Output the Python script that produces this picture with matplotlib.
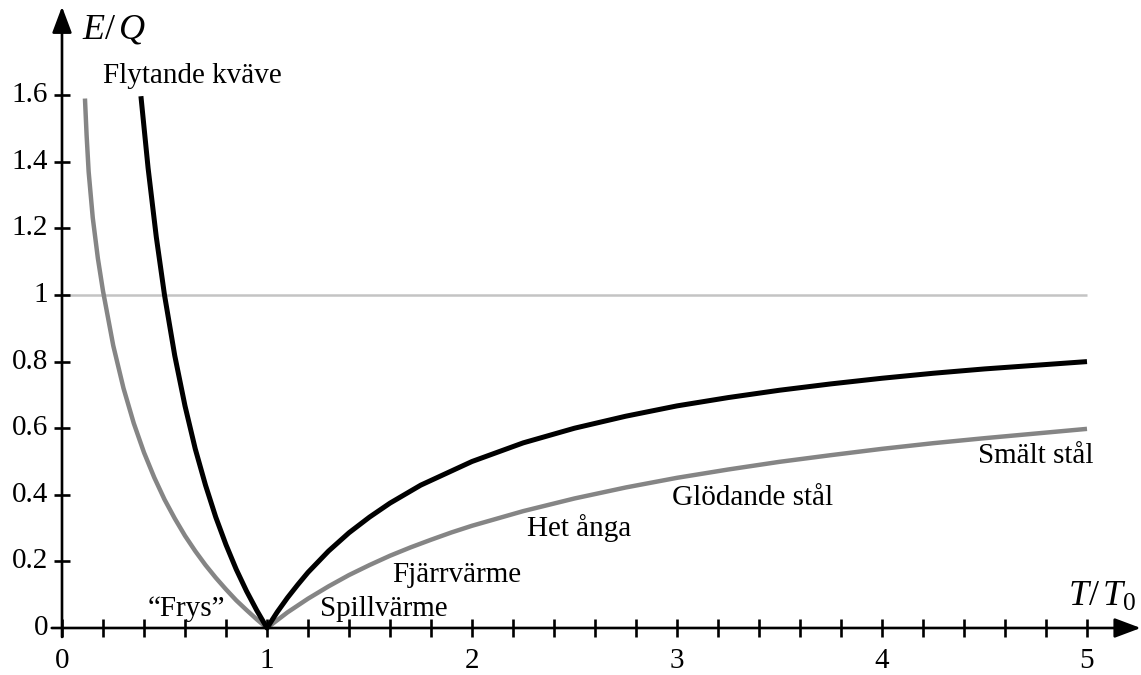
import matplotlib
matplotlib.use("Agg")
import matplotlib.pyplot as plt
import numpy as np

plt.rcParams["font.family"] = ["Liberation Serif", "DejaVu Serif"]
plt.rcParams["mathtext.fontset"] = "custom"
plt.rcParams["mathtext.rm"] = "Liberation Serif"
plt.rcParams["mathtext.it"] = "Liberation Serif:italic"

# Exergy factor of heat at constant temperature (Carnot factor)
carnot_x = [0.385, 0.42, 0.46, 0.5, 0.55, 0.6, 0.65, 0.7, 0.75, 0.8, 0.85, 0.9, 0.95, 1.0,
            1.05, 1.1, 1.15, 1.2, 1.3, 1.4, 1.5, 1.6, 1.75, 2.0, 2.25, 2.5,
            2.75, 3.0, 3.25, 3.5, 3.75, 4.0, 4.25, 4.5, 4.75, 5.0]
carnot_y = [1.597, 1.381, 1.174, 1.000, 0.818, 0.667, 0.538, 0.429, 0.333, 0.250, 0.176,
            0.111, 0.053, 0.0,
            0.048, 0.091, 0.130, 0.167, 0.231, 0.286, 0.333, 0.375, 0.429, 0.500, 0.556, 0.600,
            0.636, 0.667, 0.692, 0.714, 0.733, 0.750, 0.765, 0.778, 0.789, 0.800]

# Exergy factor of heat released while cooling down to ambient temperature
cooling_x = [0.112, 0.12, 0.13, 0.15, 0.175, 0.2, 0.25, 0.3, 0.35, 0.4, 0.45, 0.5, 0.55,
             0.6, 0.65, 0.7, 0.75, 0.8, 0.85, 0.9, 0.95, 1.0,
             1.1, 1.2, 1.3, 1.4, 1.5, 1.6, 1.7, 1.8, 1.9, 2.0, 2.25, 2.5, 2.75,
             3.0, 3.25, 3.5, 3.75, 4.0, 4.25, 4.5, 4.75, 5.0]
cooling_y = [1.590, 1.480, 1.370, 1.232, 1.110, 1.012, 0.848, 0.720, 0.615, 0.527, 0.452,
             0.386, 0.329, 0.277, 0.231, 0.189, 0.151, 0.116, 0.083, 0.054, 0.026, 0.0,
             0.047, 0.088, 0.125, 0.159, 0.189, 0.217, 0.242, 0.265, 0.287, 0.307, 0.351,
             0.389, 0.422, 0.451, 0.476, 0.499, 0.519, 0.538, 0.555, 0.570, 0.584, 0.598]

reference_level = 1.0

x_ticks = [0, 1, 2, 3, 4, 5]
x_minor_step = 0.2
y_ticks = [0.2, 0.4, 0.6, 0.8, 1.0, 1.2, 1.4, 1.6]
y_tick_labels = ["0.2", "0.4", "0.6", "0.8", "1", "1.2", "1.4", "1.6"]

annotations = [
    ("Flytande kväve", 0.20, 1.658),
    ("\u201cFrys\u201d", 0.42, 0.056),
    ("Spillvärme", 1.26, 0.056),
    ("Fjärrvärme", 1.61, 0.160),
    ("Het ånga", 2.27, 0.300),
    ("Glödande stål", 2.976, 0.390),
    ("Smält stål", 4.47, 0.516),
]

fig = plt.figure(figsize=(11.41, 6.75), dpi=100)
ax = fig.add_axes([0, 0, 1, 1])
ax.set_xlim(-62 / 205, (1141 - 62) / 205)
ax.set_ylim((628 - 675) / 333, 628 / 333)
ax.axis("off")

axis_lw = 1.9
fs = 21

# reference line E/Q = 1
ax.plot([0, 5], [reference_level, reference_level], color="#c4c4c4", lw=1.8,
        solid_capstyle="butt", zorder=1)

# curves
ax.plot(cooling_x, cooling_y, color="#858585", lw=3.2, solid_joinstyle="round",
        solid_capstyle="butt", zorder=2)
ax.plot(carnot_x, carnot_y, color="black", lw=3.6, solid_joinstyle="round",
        solid_capstyle="butt", zorder=3)

# axes with arrow heads
arrow = dict(arrowstyle="-|>,head_length=0.8,head_width=0.3", lw=axis_lw,
             color="black", mutation_scale=20, shrinkA=0, shrinkB=0)
ax.annotate("", xy=(5.262, 0), xytext=(-0.05, 0), arrowprops=arrow, zorder=4)
ax.annotate("", xy=(0, 1.866), xytext=(0, -0.027), arrowprops=arrow, zorder=4)

# x ticks every 0.2
xt = np.arange(0, 5 + 1e-9, x_minor_step)
ax.vlines(xt, -0.027, 0.027, color="black", lw=axis_lw, zorder=4)
for v in x_ticks:
    ax.text(v, -0.099, str(v), ha="center", va="center", fontsize=fs)

# y ticks
ax.hlines(y_ticks, -0.041, 0.041, color="black", lw=axis_lw, zorder=4)
for v, lab in zip(y_ticks, y_tick_labels):
    ax.text(-0.068, v, lab, ha="right", va="center", fontsize=fs)
ax.text(-0.068, 0, "0", ha="right", va="center", fontsize=fs)

# axis titles
ax.text(0.098, 1.796, r"$E/\,Q$", ha="left", va="center", fontsize=26)
ax.text(4.907, 0.093, r"$T/\,T_{\mathrm{0}}$", ha="left", va="center", fontsize=26)

for text, x, y in annotations:
    ax.text(x, y, text, ha="left", va="center", fontsize=fs)

fig.savefig("out.png", dpi=100)
